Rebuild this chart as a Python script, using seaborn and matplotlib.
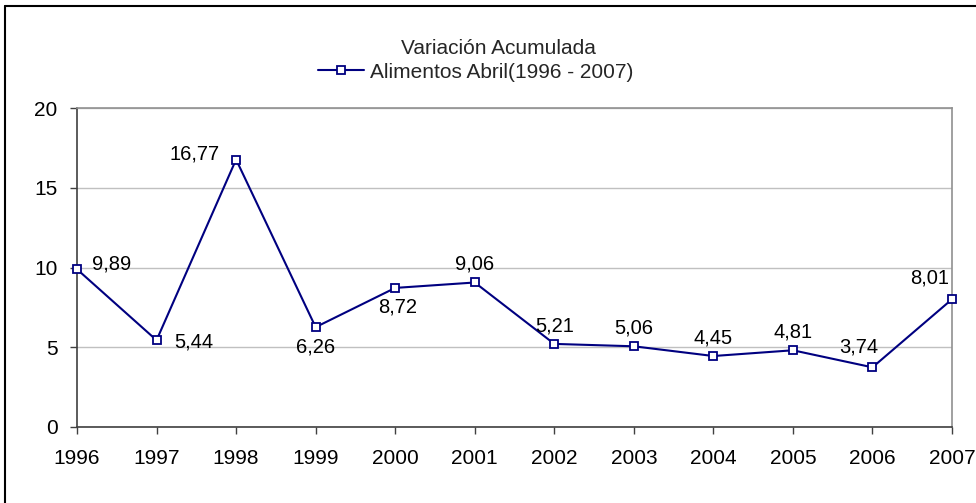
import matplotlib
matplotlib.use("Agg")
import matplotlib.pyplot as plt
from matplotlib.lines import Line2D
import pandas as pd
import seaborn as sns

anios = [1996, 1997, 1998, 1999, 2000, 2001, 2002, 2003, 2004, 2005, 2006, 2007]
variacion = [9.89, 5.44, 16.77, 6.26, 8.72, 9.06, 5.21, 5.06, 4.45, 4.81, 3.74, 8.01]
etiquetas = ["9,89", "5,44", "16,77", "6,26", "8,72", "9,06",
             "5,21", "5,06", "4,45", "4,81", "3,74", "8,01"]
# desplazamiento de cada etiqueta respecto al punto (en puntos)
desplazamientos = [(25, 4), (27, -1), (-30, 4), (0, -14), (2, -14), (0, 13),
                   (0, 13), (0, 13), (0, 13), (0, 13), (-10, 15), (-16, 15)]

titulo = "Variación Acumulada"
serie = "Alimentos Abril(1996 - 2007)"

dados = pd.DataFrame({"Anio": anios, "Variacion": variacion})

sns.set_style("white")
plt.rcParams["font.family"] = ["Liberation Sans", "DejaVu Sans"]

azul = "#000080"

fig = plt.figure(figsize=(9.76, 5.03), dpi=100)
ax = fig.add_axes([77 / 976, 1 - 427 / 503, (952 - 77) / 976, (427 - 108) / 503])

sns.lineplot(
    data=dados,
    x="Anio",
    y="Variacion",
    color=azul,
    linewidth=1.5,
    marker="s",
    markersize=6,
    markerfacecolor="white",
    markeredgecolor=azul,
    markeredgewidth=1.3,
    ax=ax,
    zorder=3,
    clip_on=False
)

for x, y, txt, (dx, dy) in zip(anios, variacion, etiquetas, desplazamientos):
    ax.annotate(txt, (x, y), xytext=(dx, dy), textcoords="offset points",
                ha="center", va="center", fontsize=14.5, color="black")

ax.set_xlim(1996, 2007)
ax.set_ylim(0, 20)
ax.set_xticks(anios)
ax.set_xticklabels([str(a) for a in anios])
ax.set_yticks([0, 5, 10, 15, 20])
ax.set_xlabel("")
ax.set_ylabel("")

ax.yaxis.grid(True, color="#c0c0c0", linewidth=1)
ax.set_axisbelow(True)

ax.spines["left"].set_color("#404040")
ax.spines["bottom"].set_color("#404040")
ax.spines["right"].set_color("#909090")
ax.spines["top"].set_color("#909090")
for s in ax.spines.values():
    s.set_linewidth(1.2)

ax.tick_params(axis="both", which="both", direction="out", length=5,
               width=1, color="#404040", labelsize=15, labelcolor="black")
ax.tick_params(axis="x", pad=11, bottom=True)
ax.tick_params(axis="y", pad=9, left=True)

fig.text(498 / 976, 1 - 48 / 503, titulo, ha="center", va="center", fontsize=15)

manejador = Line2D([], [], color=azul, linewidth=1.5, marker="s", markersize=6,
                   markerfacecolor="white", markeredgecolor=azul, markeredgewidth=1.3)
fig.legend([manejador], [serie], loc="center", bbox_to_anchor=(476 / 976, 1 - 72 / 503),
           frameon=False, fontsize=15, handlelength=2.2, handletextpad=0.3,
           borderpad=0)

# marco del grafico
fig.add_artist(Line2D([5 / 976, 5 / 976], [0, 1 - 6 / 503], color="black", linewidth=1.5))
fig.add_artist(Line2D([5 / 976, 1], [1 - 6 / 503, 1 - 6 / 503], color="black", linewidth=1.5))

fig.savefig("out.png", dpi=100)
plt.close(fig)
